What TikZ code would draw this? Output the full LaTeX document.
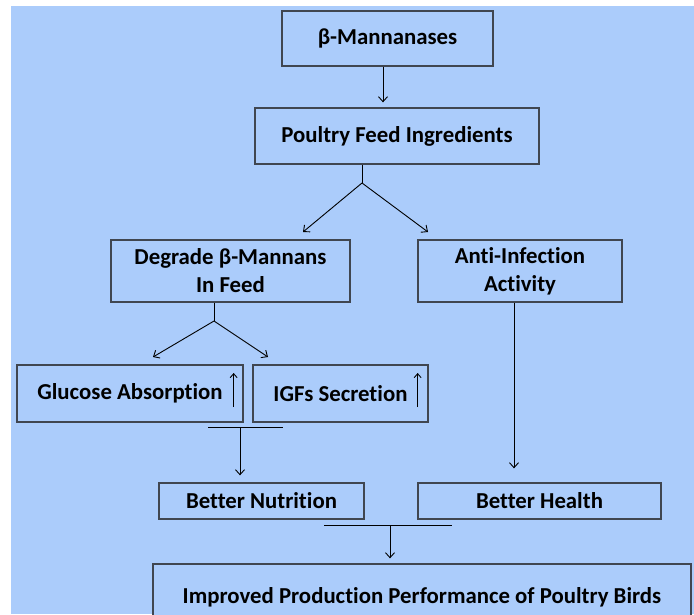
\documentclass[tikz,border=0pt]{standalone}
\usepackage{fontspec}
\setmainfont[Ligatures=NoCommon]{Carlito}
\usepackage{tikz}
\usetikzlibrary{positioning,arrows.meta}

\definecolor{sky}{RGB}{171,204,251}
\definecolor{edge}{RGB}{64,70,80}

\tikzset{
  box/.style={rectangle, draw=edge, line width=1.3pt, fill=sky, inner sep=0pt,
    font=\fontsize{22.8}{28}\selectfont\bfseries, align=center},
  arr/.style={line width=0.9pt, -{Straight Barb[length=5pt,width=9pt]}},
  link/.style={line width=0.9pt}
}

\begin{document}
\begin{tikzpicture}[x=1pt,y=-1pt]
					% page and backdrop
					\useasboundingbox (0,0) rectangle (694,614);
					\fill[white] (0,0) rectangle (694,614);
					\fill[sky] (11,6) rectangle (694,614);
					
					% Top of the chain
					\node (beta) [box, minimum width=211pt, minimum height=55pt] at (387.5,38.5) {β-Mannanases};
					\node (feed) [box, minimum width=284pt, minimum height=56pt] at (397,136) {Poultry Feed Ingredients};
					
					\draw[arr, shorten >=5pt] ([xshift=-4.5pt]beta.south) -- ([xshift=-4.5pt]beta.south |- feed.north);
					
					% Two actions of the enzyme
					\node (degrade) [box, minimum width=239pt, minimum height=62pt] at (230.5,271) {Degrade β-Mannans\\In Feed};
					\node (anti) [box, minimum width=204pt, minimum height=62pt] at (520,271) {Anti-Infection\\Activity};
					
					\coordinate (fork1) at (362,183);
					\coordinate (toDegrade) at (303,232);
					\coordinate (toAnti) at (428,232);
					\draw[link] (fork1 |- feed.south) -- (fork1);
					\draw[arr] (fork1) -- (toDegrade);
					\draw[arr] (fork1) -- (toAnti);
					
					% Effects of degrading the mannans
					\node (glucose) [box, minimum width=226pt, minimum height=57pt] at (130,393.5) {Glucose Absorption};
					\node (igfs) [box, minimum width=175pt, minimum height=57pt] at (340.5,393.5) {IGFs Secretion};
					\draw[line width=0.9pt, -{Straight Barb[length=4pt,width=7pt]}] ([xshift=-10pt,yshift=-13.5pt]glucose.east) -- ([xshift=-10pt,yshift=20.5pt]glucose.east);
					\draw[line width=0.9pt, -{Straight Barb[length=4pt,width=7pt]}] ([xshift=-11pt,yshift=-13.5pt]igfs.east) -- ([xshift=-11pt,yshift=20.5pt]igfs.east);
					
					\coordinate (fork2) at (214,321);
					\coordinate (toGlucose) at (153,357);
					\coordinate (toIgfs) at (268,357);
					\draw[link] (fork2 |- degrade.south) -- (fork2);
					\draw[arr] (fork2) -- (toGlucose);
					\draw[arr] (fork2) -- (toIgfs);
					
					% Outcomes
					\node (nutrition) [box, minimum width=205pt, minimum height=36pt] at (261.5,501) {Better Nutrition};
					\node (health) [box, minimum width=243pt, minimum height=36pt] at (539.5,501) {Better Health};
					
					\coordinate (bar1L) at (208,427);
					\coordinate (bar1R) at (283,427);
					\coordinate (bar1M) at (240,427);
					\draw[link] (bar1L) -- (bar1R);
					\draw[arr, shorten >=7pt] (bar1M) -- (bar1M |- nutrition.north);
					
					\draw[arr, shorten >=14pt] ([xshift=-6pt]anti.south) -- ([xshift=-6pt]anti.south |- health.north);
					
					% Final result
					\node (improved) [box, minimum width=538pt, minimum height=66pt] at (422,597) {Improved Production Performance of Poultry Birds};
					
					\coordinate (bar2L) at (324,525);
					\coordinate (bar2R) at (452,525);
					\coordinate (bar2M) at (390,525);
					\draw[link] (bar2L) -- (bar2R);
					\draw[arr, shorten >=5pt] (bar2M) -- (bar2M |- improved.north);
				\end{tikzpicture}
\end{document}
